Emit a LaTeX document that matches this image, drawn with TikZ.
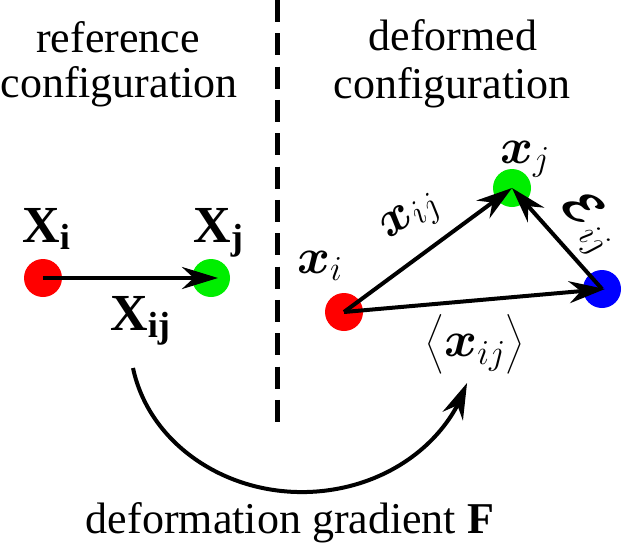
\RequirePackage{fix-cm}
\documentclass[tikz,border=0pt]{standalone}
\usepackage{amsmath}
\usepackage{bm}
\usepackage{fontspec}
\setmainfont{Liberation Serif}
\usetikzlibrary{arrows.meta,bending}
\definecolor{dotred}{RGB}{255,0,0}
\definecolor{dotgreen}{RGB}{0,238,0}
\definecolor{dotblue}{RGB}{0,0,255}
\tikzset{
  dot/.style={circle, inner sep=0pt, minimum size=38pt, draw=none},
  vec/.style={line width=4pt, -{Stealth[length=36pt,width=22pt]}},
  caption/.style={font=\fontsize{44}{52}\selectfont, inner sep=0pt, anchor=base},
  reflabel/.style={font=\fontsize{52}{60}\selectfont, inner sep=0pt, anchor=base west},
  mathlabel/.style={font=\fontsize{50}{60}\selectfont, inner sep=0pt},
  divider/.style={line width=5pt, dash pattern=on 22pt off 11.33pt}
}
\begin{document}
\begin{tikzpicture}[x=1pt,y=-1pt]
\useasboundingbox (0,0) rectangle (623,544);
% divider
\coordinate (dtop) at (277,0);
\coordinate (dbot) at (277,423);
\draw[divider] (dtop) -- (dbot);
% captions
\node[caption] (ref1) at (118,52) {reference};
\node[caption] (ref2) at (119,97) {configuration};
\node[caption] (def1) at (453,50) {deformed};
\node[caption] (def2) at (452,98) {configuration};
% reference configuration
\node[dot, fill=dotred] (Xi) at (43,278) {};
\node[dot, fill=dotgreen] (Xj) at (211,278) {};
\draw[vec] (Xi.center) -- ([xshift=7pt]Xj.center);
\node[reflabel] (lXi) at (22,242) {$\mathbf{X}_{\mathbf{i}}$};
\node[reflabel] (lXj) at (193,242) {$\mathbf{X}_{\mathbf{j}}$};
\node[reflabel] (lXij) at (110,330) {$\mathbf{X}_{\mathbf{ij}}$};
% deformed configuration
\node[dot, fill=dotred] (xi) at (344,312) {};
\node[dot, fill=dotgreen] (xj) at (512,188) {};
\node[dot, fill=dotblue] (xb) at (602,289) {};
\draw[vec] (xi.center) -- (xj.center);
\draw[vec] (xi.center) -- ([xshift=3pt]xb.center);
\draw[vec] (xb.center) -- (xj.center);
\node[mathlabel, anchor=base west] (lxi) at (297,273) {$\bm{x}_i$};
\node[mathlabel, anchor=base west] (lxj) at (500,163) {$\bm{x}_j$};
\node[mathlabel, rotate=36] (lxij) at (412,218) {$\bm{x}_{ij}$};
\node[mathlabel, rotate=-48] (leps) at (588,223) {$\bm{\mathcal{E}}_{ij}$};
\node[mathlabel] (lavg) at (475,344) {$\big\langle \bm{x}_{ij} \big\rangle$};
% deformation gradient arrow
\coordinate (fstart) at (133,368);
\draw[vec] (fstart) arc[start angle=190.6, end angle=343.6, x radius=172pt, y radius=152pt] coordinate (fend);
\node[caption] (grad) at (290,533) {deformation gradient $\mathbf{F}$};
\end{tikzpicture}
\end{document}
